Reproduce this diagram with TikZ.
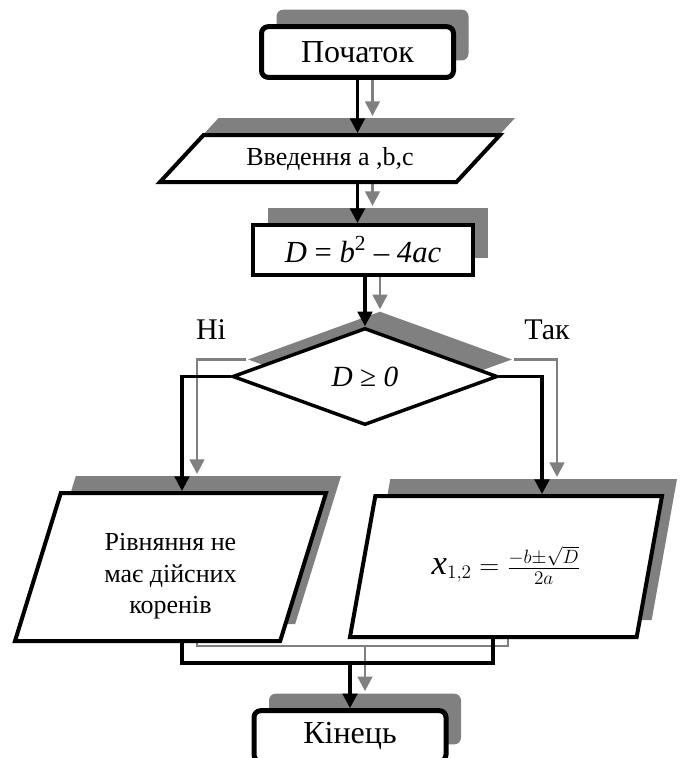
\documentclass[tikz,border=0pt]{standalone}
\usepackage{fontspec}
\setmainfont{Liberation Serif}
\usetikzlibrary{shapes.geometric, arrows.meta, positioning, calc, shadows, backgrounds}
\definecolor{ShadowGray}{HTML}{808080}
\tikzset{
    blockshadow/.style={
        general shadow={shadow xshift=11.25pt, shadow yshift=12.75pt, fill=ShadowGray}
    },
    terminal/.style={
        draw=black,
        fill=white,
        rounded corners=5pt,
        line width=3.75pt,
        minimum width=144pt,
        minimum height=38pt,
        font=\fontsize{24}{28}\selectfont,
        blockshadow
    },
    io/.style={
        trapezium,
        trapezium stretches body,
        draw=black,
        fill=white,
        line width=3pt,
        align=center,
        inner sep=2pt,
        blockshadow
    },
    process/.style={
        draw=black,
        fill=white,
        line width=3pt,
        minimum width=165pt,
        minimum height=37.5pt,
        font=\fontsize{23}{27}\selectfont,
        blockshadow
    },
    decision/.style={
        diamond,
        aspect=2.7,
        draw=black,
        fill=white,
        line width=2.6pt,
        minimum width=198.75pt,
        minimum height=72.75pt,
        inner sep=1pt,
        font=\fontsize{22}{26}\selectfont,
        blockshadow
    },
    branchlabel/.style={
        font=\fontsize{22.5}{27}\selectfont,
        inner sep=0pt
    },
    link/.style={
        draw=black,
        line width=2.4pt,
        -{Triangle[length=11pt, width=11pt]}
    },
    shadowlink/.style={
        draw=ShadowGray,
        line width=2pt,
        -{Triangle[length=11pt, width=11pt]},
        transform canvas={shift={(15,-17)}}
    },
    joinline/.style={draw=black, line width=2.4pt},
    shadowjoin/.style={draw=ShadowGray, line width=2pt, transform canvas={shift={(15,-17)}}}
}

\begin{document}
\begin{tikzpicture}[x=0.75pt, y=-0.75pt]
    \useasboundingbox (0,0) rectangle (684,758);

    % Blocks
    \node[terminal] (start) at (357.5,52) {Початок};
    \node[io, minimum width=255pt, minimum height=35.25pt,
          trapezium left angle=33.1, trapezium right angle=146.9,
          font=\fontsize{19.5}{23}\selectfont] (input) at (330,158.5) {Введення а ,b,c};
    \node[process] (calc) at (363,250) {\textit{D} = \textit{b}\textsuperscript{2} – \textit{4ac}};
    \node[decision] (decide) at (365,376.5) {\textit{D} ≥ \textit{0}};
    \node[io, minimum width=233.25pt, minimum height=111pt,
          trapezium left angle=67.3, trapezium right angle=112.7,
          font=\fontsize{19.5}{23.5}\selectfont] (nobox) at (170.5,567)
          {\rule{0pt}{27pt}Рівняння не\\має дійсних\\коренів};
    \node[io, minimum width=234pt, minimum height=105.75pt,
          trapezium left angle=61.1, trapezium right angle=118.9,
          font=\fontsize{21}{25}\selectfont] (yesbox) at (506,566.5)
          {\raisebox{9pt}{{\fontsize{26}{30}\selectfont\textit{x}}$_{1,2} = \frac{-b\pm\sqrt{D}}{2a}$}};
    \node[terminal] (finish) at (350,736) {Кінець};

    % Branch labels
    \node[branchlabel] (nolabel) at (211,330) {Ні};
    \node[branchlabel] (yeslabel) at (547,330) {Так};

    % Bend points
    \coordinate (nocol) at (182,0);
    \coordinate (yescol) at (542,0);
    \coordinate (joincol) at (493,0);
    \coordinate (merge) at (350,663);

    % Shadow of the connectors
    \begin{scope}[on background layer]
        \draw[shadowlink] (start.south) -- (start.south |- input.north);
        \draw[shadowlink] (input.south -| start.south) -- (calc.north -| start.south);
        \draw[shadowlink] (decide.north |- calc.south) -- (decide.north);
        \draw[shadowlink] (decide.west) -| (nocol |- nobox.north);
        \draw[shadowlink] (decide.east) -| (yescol |- yesbox.north);
        \draw[shadowjoin] (nocol |- nobox.south) |- (merge) -| (joincol |- yesbox.south);
        \draw[shadowlink] (merge) -- (finish.north);
    \end{scope}

    % Connectors
    \draw[link] (start.south) -- (start.south |- input.north);
    \draw[link] (input.south -| start.south) -- (calc.north -| start.south);
    \draw[link] (decide.north |- calc.south) -- (decide.north);
    \draw[link] (decide.west) -| (nocol |- nobox.north);
    \draw[link] (decide.east) -| (yescol |- yesbox.north);
    \draw[joinline] (nocol |- nobox.south) |- (merge) -| (joincol |- yesbox.south);
    \draw[link] (merge) -- (finish.north);
\end{tikzpicture}
\end{document}
